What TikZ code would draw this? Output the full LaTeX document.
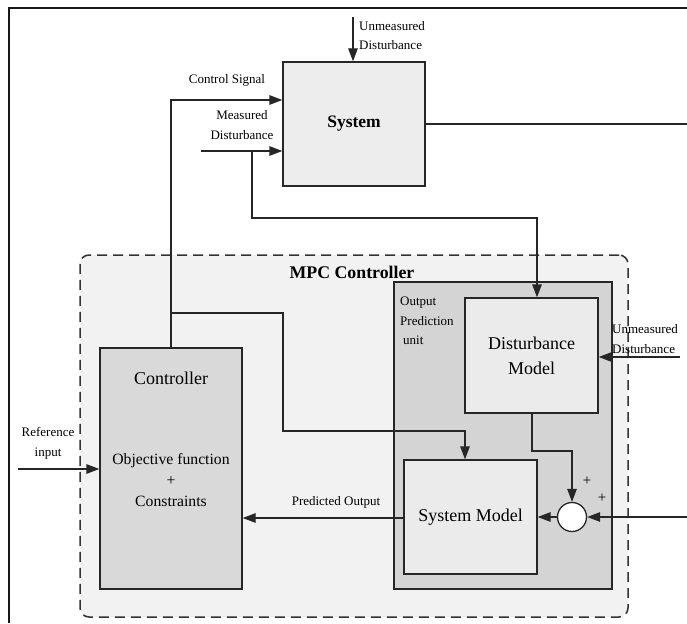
\documentclass[tikz,border=0pt]{standalone}
\usepackage{fontspec}
\setmainfont{Liberation Serif}
\usetikzlibrary{arrows.meta,calc}
\begin{document}
\begin{tikzpicture}[x=1pt,y=-1pt,
  line/.style={draw=black!85, line width=1.3pt},
  arr/.style={line, -{Triangle[length=13pt,width=9.5pt]}},
  blockbox/.style={draw=black!85, line width=1.3pt, rectangle, inner sep=0pt},
  lbl/.style={font=\fontsize{13}{19.5}\selectfont, inner sep=0pt},
  big/.style={font=\fontsize{18}{25}\selectfont, align=center, inner sep=0pt}
]
\path[fill=white] (0,0) rectangle (687,623);
\useasboundingbox (0,0) rectangle (687,623);
% outer frame
\draw[line width=1.5pt, black!90] (9,623) -- (9,8) -- (687,8);

% MPC dashed box
\node[draw=black!80, fill=black!5, line width=1.5pt, dash pattern=on 10pt off 6pt,
  rounded corners=9pt, minimum width=548pt, minimum height=362pt] (mpc) at (354,436) {};
\node[font=\fontsize{17.8}{20}\selectfont\bfseries, inner sep=0pt] (mpct) at (352,272) {MPC Controller};

% output prediction unit
\node[blockbox, fill=black!17, minimum width=218pt, minimum height=307pt] (opu) at (503,435.5) {};
\node[lbl, align=left, anchor=west] (opt) at (400,321) {Output\\Prediction\\\hspace*{3pt}unit};

% blocks
\node[blockbox, fill=black!7, minimum width=142pt, minimum height=124pt,
  font=\fontsize{17.5}{20}\selectfont\bfseries] (sys) at (354,124) {System};
\node[blockbox, fill=black!8, minimum width=133pt, minimum height=115pt, big] (dm) at (531.5,355.5) {Disturbance\\Model};
\node[blockbox, fill=black!8, minimum width=133pt, minimum height=114pt, big] (sm) at (470.5,517) {System Model};
\node[blockbox, fill=black!15, minimum width=142pt, minimum height=241pt] (ctrl) at (171,468.5) {};
\node[font=\fontsize{18}{20}\selectfont, inner sep=0pt] (ctrlt) at (171,378) {Controller};
\node[font=\fontsize{15.7}{21}\selectfont, align=center, inner sep=0pt] (obj) at (171,480) {Objective function\\+\\Constraints};
\node[draw=black!85, line width=1.3pt, fill=white, circle, minimum size=29pt, inner sep=0pt] (sum) at (572,517) {};

% coordinates
\coordinate (ud1) at (353,17);
\coordinate (md0) at (201,151);
\coordinate (mdj) at (252,151);
\coordinate (mdturn) at (537,218);
\coordinate (cj) at (172,313);
\coordinate (turn1) at (283,431);
\coordinate (sysout) at (687,124);
\coordinate (ud2) at (680,357);
\coordinate (inR) at (687,517);
\coordinate (dmturn) at (572,451);
\coordinate (ref) at (18,469);

% connectors
\draw[arr] (ud1) -- (sys.north -| ud1);
\draw[arr] (ctrl.north) |- ([yshift=24pt]sys.west);
\draw[arr] (md0) -- ([yshift=-27pt]sys.west);
\draw[arr] (mdj) |- (mdturn) -- ([xshift=5.5pt]dm.north);
\draw[arr] (cj) -| (turn1) -| ([xshift=-5.5pt]sm.north);
\draw[line] (sys.east) -- (sysout);
\draw[arr] (ud2) -- (dm.east |- ud2);
\draw[arr] (inR) -- (sum.east);
\draw[arr] (sum.west) -- (sm.east);
\draw[arr] ([xshift=0.5pt]dm.south) |- (dmturn) -- (sum.north);
\draw[arr] (sm.west |- 0,518) -- (ctrl.east |- 0,518);
\draw[arr] (ref) -- (ctrl.west |- ref);

% labels
\node[lbl] (lcs) at (227,80) {Control Signal};
\node[lbl, align=center] (lmd) at (242,125) {Measured\\Disturbance};
\node[lbl, align=left, anchor=west] (lud1) at (359,35.5) {Unmeasured\\Disturbance};
\node[lbl, align=left, anchor=west] (lud2) at (612,339) {Unmeasured\\Disturbance};
\node[lbl, align=center] (lref) at (48,443.5) {Reference\\input};
\node[lbl] (lpo) at (336,502) {Predicted Output};
\node[font=\fontsize{15}{18}\selectfont, inner sep=0pt] (p1) at (587,481) {+};
\node[font=\fontsize{15}{18}\selectfont, inner sep=0pt] (p2) at (602,498) {+};
\end{tikzpicture}
\end{document}
